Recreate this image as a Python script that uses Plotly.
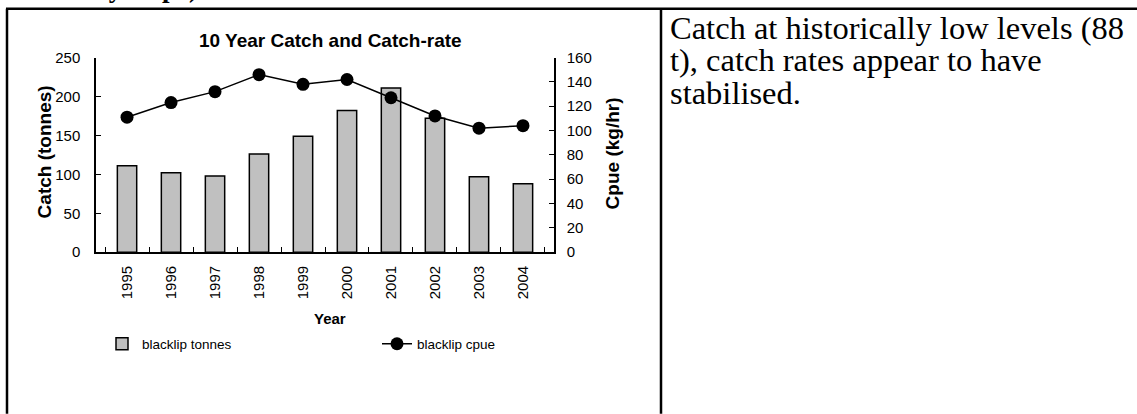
import plotly.graph_objects as go

years = ['1995', '1996', '1997', '1998', '1999', '2000', '2001', '2002', '2003', '2004']
tonnes = [111, 102, 98, 126, 149, 182, 211, 172, 97, 88]
cpue = [111, 123, 132, 146, 138, 142, 127, 112, 102, 104]

heading = 'and Sandy Cape)'
note_lines = ['Catch at historically low levels (88',
              't), catch rates appear to have',
              'stabilised.']

W, H = 1137, 414
# the page comes out shifted and squeezed a little vertically; map wanted pixel rows
Y0, YS = 8.3, 0.961

def px(x):
    return x / W

def py(y):
    return 1 - (y - Y0) / YS / H

fig = go.Figure()
fig.add_trace(go.Bar(
    x=years, y=tonnes, name='blacklip tonnes',
    marker=dict(color='#c0c0c0', line=dict(color='black', width=1.5)),
    yaxis='y'
))
fig.add_trace(go.Scatter(
    x=years, y=cpue, name='blacklip cpue', mode='lines+markers',
    line=dict(color='black', width=1.5),
    marker=dict(color='black', size=13),
    yaxis='y2'
))

tickfont = dict(family='Liberation Sans, Arial', size=15, color='black')
bold = dict(family='Liberation Sans, Arial', size=19, color='black')

fig.update_layout(
    width=W, height=H,
    margin=dict(l=0, r=0, t=0, b=0),
    paper_bgcolor='white', plot_bgcolor='white',
    bargap=0.56,
    showlegend=True,
    legend=dict(orientation='h', x=px(102), y=py(344), yanchor='middle',
                xanchor='left', entrywidth=230, entrywidthmode='pixels',
                font=dict(family='Liberation Sans, Arial', size=13.5, color='black'),
                bgcolor='rgba(0,0,0,0)'),
    xaxis=dict(domain=[px(96), px(554)], type='category', showline=True,
               linecolor='black', linewidth=1.5, ticks='inside', ticklen=5,
               tickcolor='black', tickson='boundaries', tickangle=-90,
               tickfont=tickfont, showgrid=False, zeroline=False,
               ticklabelstandoff=6),
    yaxis=dict(domain=[py(252), py(57)], range=[0, 250], dtick=50,
               showline=True, linecolor='black', linewidth=1.5,
               ticks='inside', ticklen=5, tickcolor='black',
               tickfont=tickfont, showgrid=False, zeroline=False,
               ticklabelstandoff=11),
    yaxis2=dict(overlaying='y', side='right', anchor='x', range=[0, 160],
                dtick=20, showline=True, linecolor='black', linewidth=1.5,
                ticks='inside', ticklen=5, tickcolor='black',
                tickfont=tickfont, showgrid=False, zeroline=False,
                ticklabelstandoff=8),
)

ann = [
    dict(text='<b>' + heading + '</b>', x=px(-2), y=py(-12.8), xanchor='left',
         font=dict(family='Liberation Serif, Times New Roman', size=27, color='black')),
    dict(text='<b>10 Year Catch and Catch-rate</b>', x=px(330), y=py(40),
         font=bold),
    dict(text='<b>Catch (tonnes)</b>', x=px(44), y=py(152), textangle=-90,
         font=bold),
    dict(text='<b>Cpue (kg/hr)</b>', x=px(612), y=py(153), textangle=-90,
         font=bold),
    dict(text='<b>Year</b>', x=px(330), y=py(318),
         font=dict(family='Liberation Sans, Arial', size=15, color='black')),
]
for i, line in enumerate(note_lines):
    ann.append(dict(text=line, x=px(668), y=py(27 + 32.5 * i), xanchor='left',
                    font=dict(family='Liberation Serif, Times New Roman',
                              size=32.5, color='black')))
for a in ann:
    a.setdefault('xref', 'paper')
    a.setdefault('yref', 'paper')
    a.setdefault('showarrow', False)
    a.setdefault('xanchor', 'center')
    a.setdefault('yanchor', 'middle')
fig.update_layout(annotations=ann)

border = dict(color='black', width=2.5)
fig.update_layout(shapes=[
    dict(type='line', xref='paper', yref='paper', x0=px(6), x1=1, y0=py(8), y1=py(8), line=border),
    dict(type='line', xref='paper', yref='paper', x0=px(7), x1=px(7), y0=py(8), y1=py(414), line=border),
    dict(type='line', xref='paper', yref='paper', x0=px(661), x1=px(661), y0=py(8), y1=py(414), line=border),
])

fig.write_html(
    'out.html',
    config={'displayModeBar': False},
    post_script="document.body.style.margin='0';document.body.style.overflow='hidden';",
)
